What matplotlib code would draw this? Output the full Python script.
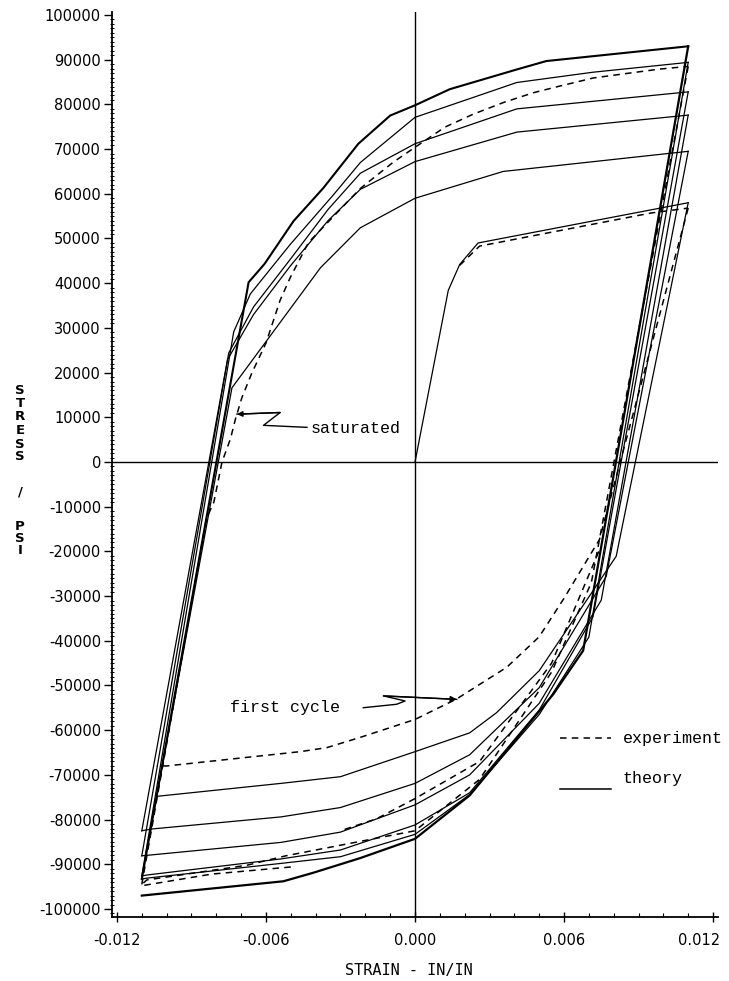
import matplotlib
matplotlib.use("Agg")
import matplotlib.pyplot as plt
import matplotlib.transforms as mtransforms
from matplotlib.ticker import FixedLocator, MultipleLocator

plt.rcParams['axes.unicode_minus'] = False

# ---- theory branches (strain, stress) ----
u1_x = [0, 0.00134, 0.0018, 0.00254, 0.011]
u1_y = [0, 38400, 44200, 49000, 58000]
l1_x = [0.011, 0.0081, 0.005, 0.00328, 0.0022, 0, -0.003, -0.0054, -0.0104]
l1_y = [58000, -21100, -46700, -56100, -60600, -64800, -70400, -71900, -74800]

u2_x = [-0.0104, -0.00737, -0.0038, -0.0022, 0, 0.00355, 0.011]
u2_y = [-74800, 16600, 43500, 52400, 59000, 65000, 69500]
l2_x = [0.011, 0.0077, 0.005, 0.0022, 0, -0.003, -0.0054, -0.0106, -0.011]
l2_y = [69500, -25600, -50500, -65500, -71900, -77300, -79400, -82100, -82500]

u3_x = [-0.011, -0.00755, -0.0065, -0.005, -0.0035, -0.0022, 0, 0.0041, 0.011]
u3_y = [-82500, 22900, 33000, 44000, 54000, 61000, 67200, 73800, 77600]
l3_x = [0.011, 0.0075, 0.005, 0.0022, 0, -0.003, -0.0054, -0.0108, -0.011]
l3_y = [77600, -30900, -54000, -70000, -76700, -82800, -85100, -88000, -88100]

u4_x = [-0.011, -0.0075, -0.0065, -0.005, -0.0035, -0.0022, 0, 0.0041, 0.011]
u4_y = [-88100, 24400, 34700, 45500, 56500, 64600, 71200, 79000, 82800]
l4_x = [0.011, 0.00717, 0.005, 0.0022, 0, -0.003, -0.0054, -0.0108, -0.011]
l4_y = [82800, -34600, -55500, -74000, -81200, -86800, -88800, -92400, -92600]

u5_x = [-0.011, -0.0073, -0.00663, -0.00502, -0.00328, -0.0022, 0, 0.0041, 0.00717, 0.011]
u5_y = [-92600, 29100, 37600, 48700, 59800, 67000, 77100, 84900, 87200, 89400]
l5_x = [0.011, 0.007, 0.005, 0.0022, 0, -0.003, -0.0054, -0.0108, -0.011]
l5_y = [89400, -39200, -56500, -74400, -83300, -88300, -89800, -93100, -93300]

u6_x = [-0.011, -0.0067, -0.00606, -0.00489, -0.00369, -0.00228, -0.001, 0, 0.0014,
        0.00409, 0.00529, 0.011]
u6_y = [-93300, 40200, 44300, 53900, 61300, 71200, 77500, 79800, 83400,
        87800, 89700, 93000]
l6_x = [0.011, 0.00677, 0.00556, 0.0022, 0, -0.0022, -0.0041, -0.0053, -0.011]
l6_y = [93000, -42200, -52000, -74600, -84300, -88600, -91900, -93800, -97000]

theory = [(u1_x, u1_y, 0.9), (l1_x, l1_y, 0.9), (u2_x, u2_y, 0.9), (l2_x, l2_y, 0.9),
          (u3_x, u3_y, 0.9), (l3_x, l3_y, 0.9), (u4_x, u4_y, 0.9), (l4_x, l4_y, 0.9),
          (u5_x, u5_y, 0.9), (l5_x, l5_y, 0.9), (u6_x, u6_y, 1.5), (l6_x, l6_y, 1.6)]

# ---- experiment branches ----
e1u_x = [0.0018, 0.0026, 0.0095, 0.011]
e1u_y = [44000, 48300, 55700, 56800]
e1l_x = [0.011, 0.00743, 0.006, 0.005, 0.0037, 0.00168, 0, -0.0022, -0.00355,
         -0.00462, -0.01, -0.0104]
e1l_y = [56800, -17300, -30500, -39100, -45900, -53000, -57600, -61600, -63900,
         -64800, -68000, -68000]

esu_x = [-0.011, -0.0084, -0.0081, -0.00777, -0.00743, -0.00723, -0.00697, -0.00657,
         -0.006, -0.00543, -0.00502, -0.00429, -0.0022, -0.00087, 0, 0.0012, 0.00234,
         0.00355, 0.00476, 0.00583, 0.00717, 0.0085, 0.00985, 0.011]
esu_y = [-94500, -12700, -9000, 0, 5200, 9600, 14400, 19900,
         26600, 36200, 41300, 49100, 61200, 67100, 70400, 74900, 77800,
         80400, 82600, 84100, 85900, 86900, 87900, 88500]
esl_x = [0.011, 0.0071, 0.0055, 0.0026, 0, -0.0052, -0.00676, -0.0108, -0.011]
esl_y = [88500, -27000, -47000, -71000, -82500, -88100, -90200, -93500, -94500]

e2l_x = [0.0074, 0.0055, 0.0026, 0, -0.00154, -0.003]
e2l_y = [-20000, -45000, -67000, -75300, -79800, -82500]
e4l_x = [-0.0109, -0.0082, -0.005]
e4l_y = [-94700, -92200, -90600]

experiment = [(e1u_x, e1u_y), (e1l_x, e1l_y), (esu_x, esu_y), (esl_x, esl_y),
              (e2l_x, e2l_y), (e4l_x, e4l_y)]

# ---- axes text ----
xticks = [-0.012, -0.006, 0.0, 0.006, 0.012]
xtick_labels = ['-0.012', '-0.006', '0.000', '0.006', '0.012']
yticks = list(range(-100000, 100001, 10000))
ytick_labels = [str(v) for v in yticks]
ylabel_chars = ['S', 'T', 'R', 'E', 'S', 'S', '/', 'P', 'S', 'I']
ylabel_rows = [390, 403.5, 417, 430.5, 444, 457, 492, 526, 538, 550]

# annotation arrows (strain, stress)
sat_x = [-0.00435, -0.0061, -0.00543, -0.00717]
sat_y = [7750, 8200, 11070, 10700]
fc_x = [-0.00208, -0.00074, -0.0004, -0.00127, 0.00168]
fc_y = [-54970, -54200, -53460, -52330, -53100]

W, H = 729, 981
fig = plt.figure(figsize=(W / 100, H / 100), dpi=100)
ax = fig.add_axes([112 / W, 1 - 917 / H, 606 / W, 905 / H])

DASH = (0, (4.3, 3.4))
for x, y, lw in theory:
    ax.plot(x, y, color='black', lw=lw, solid_joinstyle='miter')
for x, y in experiment:
    ax.plot(x, y, color='black', lw=1.1, linestyle=DASH)

ax.axhline(0, color='black', lw=1.0)
ax.axvline(0, color='black', lw=1.0)

ax.set_xlim(-0.0122, 0.0122)
ax.set_ylim(-101790, 100670)
for s in ('top', 'right'):
    ax.spines[s].set_visible(False)
for s in ('left', 'bottom'):
    ax.spines[s].set_linewidth(1.3)

ax.xaxis.set_major_locator(FixedLocator(xticks))
ax.set_xticklabels(xtick_labels)
ax.xaxis.set_minor_locator(MultipleLocator(0.001))
ax.yaxis.set_major_locator(FixedLocator(yticks))
ax.set_yticklabels(ytick_labels)
ax.yaxis.set_minor_locator(MultipleLocator(1000))
ax.tick_params(axis='x', which='major', direction='inout', length=7, width=1.0,
               labelsize=10.5, pad=8)
ax.tick_params(axis='x', which='minor', direction='in', length=3, width=0.8)
ax.tick_params(axis='y', which='major', direction='out', length=6, width=1.0,
               labelsize=10.5, pad=2)
ax.tick_params(axis='y', which='minor', direction='inout', length=3.5, width=0.7)

# last x label sits a little left of its tick in the original, inside the page
last = ax.get_xticklabels()[-1]
last.set_transform(last.get_transform() +
                   mtransforms.ScaledTranslation(-14 / 100, 0, fig.dpi_scale_trans))

mono = 'Liberation Mono'
ax.plot(sat_x, sat_y, color='black', lw=1.0)
ax.annotate('', xy=(sat_x[-1], sat_y[-1]), xytext=(sat_x[-2], sat_y[-2]),
            arrowprops=dict(arrowstyle='-|>', color='black', lw=1.0,
                            mutation_scale=8, shrinkA=0, shrinkB=0))
ax.text(-0.0042, 7400, 'saturated', fontsize=12, family=mono, va='center', ha='left')

ax.plot(fc_x, fc_y, color='black', lw=1.0)
ax.annotate('', xy=(fc_x[-1], fc_y[-1]), xytext=(fc_x[-2], fc_y[-2]),
            arrowprops=dict(arrowstyle='-|>', color='black', lw=1.0,
                            mutation_scale=9, shrinkA=0, shrinkB=0))
ax.text(-0.00743, -54970, 'first cycle', fontsize=12, family=mono, va='center',
        ha='left')

# legend drawn by hand like the original
ax.plot([0.00583, 0.0079], [-61750, -61750], color='black', lw=1.1, linestyle=DASH)
ax.text(0.00837, -61750, 'experiment', fontsize=12, family=mono, va='center')
ax.plot([0.00583, 0.0079], [-73050, -73050], color='black', lw=1.1)
ax.text(0.00837, -70790, 'theory', fontsize=12, family=mono, va='center')

fig.text(409 / W, 1 - 970 / H, 'STRAIN - IN/IN', family='DejaVu Sans Mono',
         fontsize=11, ha='center', va='center')
for ch, row in zip(ylabel_chars, ylabel_rows):
    fig.text(20 / W, 1 - row / H, ch, fontsize=9.5, fontweight='bold',
             ha='center', va='center')

fig.savefig('out.png', dpi=100)
